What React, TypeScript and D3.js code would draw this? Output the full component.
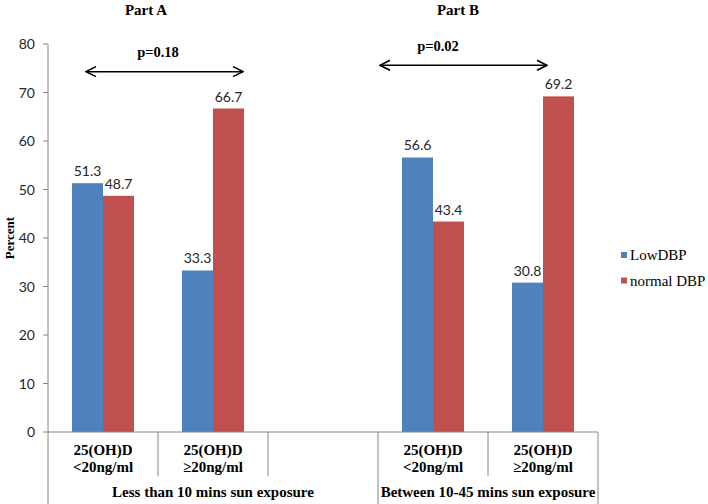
import React from "react";
import * as d3 from "d3";

const categories = ["c1", "c2", "c3", "c4", "c5"];
const catLine1 = ["25(OH)D", "25(OH)D", "", "25(OH)D", "25(OH)D"];
const catLine2 = ["<20ng/ml", "≥20ng/ml", "", "<20ng/ml", "≥20ng/ml"];
const groups = [
  { label: "Less than 10 mins sun exposure", from: 0, to: 3 },
  { label: "Between 10-45 mins sun exposure", from: 3, to: 5 },
];
const seriesNames = ["LowDBP", "normal DBP"];
const lowDBP: (number | null)[] = [51.3, 33.3, null, 56.6, 30.8];
const normalDBP: (number | null)[] = [48.7, 66.7, null, 43.4, 69.2];
const yTicks = [0, 10, 20, 30, 40, 50, 60, 70, 80];
const colors = ["#4F81BD", "#C0504D"];

const W = 708;
const H = 504;
const left = 48;
const right = 598;
const top = 44;
const bottom = 432;

const serif = "'Liberation Serif', 'Times New Roman', serif";
const sans = "Lato, 'Liberation Sans', sans-serif";

export default function App() {
  const x = d3.scaleBand<string>().domain(categories).range([left, right]).padding(0);
  const xi = d3
    .scaleBand<string>()
    .domain(seriesNames)
    .range([0, x.bandwidth()])
    .paddingInner(0)
    .paddingOuter(0.774);
  const y = d3.scaleLinear().domain([0, 80]).range([bottom, top]);
  const series = [lowDBP, normalDBP];
  const axisColor = "#868686";

  const boundaries = d3.range(categories.length + 1).map((i) => left + i * x.step());
  const groupEdges = new Set<number>();
  groups.forEach((g) => {
    groupEdges.add(g.from);
    groupEdges.add(g.to);
  });

  const arrowA = { x1: x("c1")! + 38, x2: x("c3")! - 25, v: 74.3 };
  const arrowB = { x1: x("c4")! + 2, x2: x("c5")! + 59, v: 75.6 };

  return (
    <svg width={W} height={H} style={{ position: "absolute", left: 0, top: 0, background: "#fff" }}>
      <defs>
        <marker id="arr" viewBox="0 0 12 12" refX="11" refY="6" markerWidth="12" markerHeight="12" orient="auto-start-reverse" markerUnits="userSpaceOnUse">
          <path d="M1,1 L11,6 L1,11" fill="none" stroke="#000" strokeWidth={1.6} />
        </marker>
      </defs>
      <rect x={0} y={0} width={W} height={H} fill="#fff" />
      {/* bars */}
      {series.map((vals, si) =>
        vals.map((v, ci) =>
          v == null ? null : (
            <rect
              key={`b${si}-${ci}`}
              x={x(categories[ci])! + xi(seriesNames[si])!}
              y={y(v)}
              width={xi.bandwidth()}
              height={y(0) - y(v)}
              fill={colors[si]}
            />
          )
        )
      )}
      {/* value labels */}
      {series.map((vals, si) =>
        vals.map((v, ci) =>
          v == null ? null : (
            <text
              key={`l${si}-${ci}`}
              x={x(categories[ci])! + xi(seriesNames[si])! + xi.bandwidth() / 2}
              y={y(v) - 7}
              textAnchor="middle"
              fontFamily={sans}
              fontSize={14}
              fill="#262626"
            >
              {v.toFixed(1)}
            </text>
          )
        )
      )}
      {/* y axis */}
      <line x1={left} x2={left} y1={top} y2={H} stroke={axisColor} strokeWidth={1} />
      {yTicks.map((t) => (
        <g key={t}>
          <line x1={left - 5} x2={left} y1={y(t)} y2={y(t)} stroke={axisColor} />
          <text x={left - 13} y={y(t) + 5} textAnchor="end" fontFamily={sans} fontSize={14} fill="#262626">
            {t}
          </text>
        </g>
      ))}
      <text
        transform={`translate(14,${(top + bottom) / 2}) rotate(-90)`}
        textAnchor="middle"
        fontFamily={serif}
        fontWeight="bold"
        fontSize={13}
        fill="#000"
      >
        Percent
      </text>
      {/* x axis */}
      <line x1={left} x2={right} y1={bottom} y2={bottom} stroke={axisColor} />
      {boundaries.map((bx, i) =>
        i === 0 ? null : (
          <line key={`s${i}`} x1={bx} x2={bx} y1={bottom} y2={groupEdges.has(i) ? H : 476} stroke={axisColor} />
        )
      )}
      {categories.map((c, i) => (
        <g key={`cl${i}`}>
          <text x={x(c)! + x.bandwidth() / 2} y={455} textAnchor="middle" fontFamily={serif} fontWeight="bold" fontSize={15} fill="#000">
            {catLine1[i]}
          </text>
          <text x={x(c)! + x.bandwidth() / 2} y={472} textAnchor="middle" fontFamily={serif} fontWeight="bold" fontSize={15} fill="#000">
            {catLine2[i]}
          </text>
        </g>
      ))}
      {groups.map((g, i) => (
        <text
          key={`g${i}`}
          x={(boundaries[g.from] + boundaries[g.to]) / 2}
          y={497}
          textAnchor="middle"
          fontFamily={serif}
          fontWeight="bold"
          fontSize={15}
          fill="#000"
        >
          {g.label}
        </text>
      ))}
      {/* part titles */}
      <text x={146} y={15} textAnchor="middle" fontFamily={serif} fontWeight="bold" fontSize={15} fill="#000">
        Part A
      </text>
      <text x={458} y={15} textAnchor="middle" fontFamily={serif} fontWeight="bold" fontSize={15} fill="#000">
        Part B
      </text>
      {/* arrows */}
      {[arrowA, arrowB].map((a, i) => (
        <line
          key={`a${i}`}
          x1={a.x1}
          x2={a.x2}
          y1={y(a.v)}
          y2={y(a.v)}
          stroke="#000"
          strokeWidth={1.5}
          markerStart="url(#arr)"
          markerEnd="url(#arr)"
        />
      ))}
      <text x={158} y={57} textAnchor="middle" fontFamily={serif} fontWeight="bold" fontSize={14.5} fill="#000">
        p=0.18
      </text>
      <text x={438} y={51} textAnchor="middle" fontFamily={serif} fontWeight="bold" fontSize={14.5} fill="#000">
        p=0.02
      </text>
      {/* legend */}
      {seriesNames.map((s, i) => (
        <g key={`lg${i}`}>
          <rect x={621} y={252 + i * 25.5} width={6} height={6} fill={colors[i]} />
          <text x={630} y={260 + i * 25.5} fontFamily={serif} fontSize={15} fill="#000">
            {s}
          </text>
        </g>
      ))}
    </svg>
  );
}
